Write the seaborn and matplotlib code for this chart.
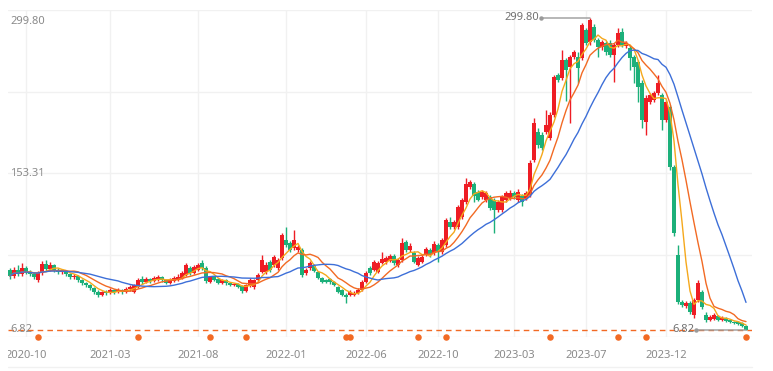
import matplotlib
matplotlib.use('Agg')
import matplotlib.pyplot as plt
import matplotlib.transforms as mtransforms
from matplotlib.lines import Line2D
from matplotlib.patches import Rectangle
import numpy as np
import pandas as pd
import seaborn as sns

# weekly candles
opens = [
    63.1, 57.5, 63.1, 59.4, 65.0, 61.3, 59.4, 53.7, 60.3, 68.8,
    64.1, 67.8, 63.1, 61.3, 62.2, 59.4, 56.6, 57.5, 53.7, 50.9,
    49.0, 46.3, 42.5, 39.7, 42.5, 41.6, 44.4, 42.5, 44.4, 42.5,
    45.3, 42.5, 47.2, 54.7, 51.9, 54.7, 52.8, 53.7, 56.6, 53.7,
    50.9, 52.8, 53.7, 55.6, 58.4, 65.0, 60.3, 63.1, 69.7, 65.0,
    51.9, 56.6, 54.7, 50.9, 53.7, 50.9, 49.0, 50.0, 48.1, 43.4,
    48.1, 47.2, 53.7, 61.3, 61.3, 70.7, 67.8, 65.0, 74.4, 91.3,
    88.5, 83.8, 81.9, 81.9, 60.3, 65.0, 66.9, 61.3, 55.6, 53.7,
    54.7, 51.9, 47.2, 44.4, 39.7, 39.7, 39.7, 41.6, 44.4, 51.9,
    65.0, 63.1, 61.3, 69.7, 70.7, 71.6, 76.3, 67.8, 72.5, 89.5,
    81.9, 79.1, 67.8, 70.7, 77.2, 81.9, 79.1, 86.6, 80.1, 86.6,
    108.2, 103.5, 103.5, 112.9, 127.0, 141.1, 143.9, 136.4, 131.7, 128.9,
    131.7, 128.9, 119.5, 119.5, 128.9, 130.8, 135.5, 128.9, 132.6, 130.8,
    133.6, 166.4, 192.7, 189.9, 192.7, 187.1, 208.7, 246.3, 243.5, 260.4,
    253.8, 263.2, 263.2, 262.2, 288.5, 277.3, 291.3, 279.1, 272.6, 276.3,
    276.3, 265.1, 274.4, 286.7, 273.5, 271.6, 263.2, 258.5, 238.8, 202.1,
    220.9, 222.8, 229.4, 227.5, 204.0, 216.2, 159.9, 77.2, 33.1, 29.4,
    32.2, 20.9, 35.0, 42.5, 20.9, 16.2, 17.2, 20.0, 16.2, 18.1,
    16.2, 14.3, 14.3, 13.4, 10.6,
]
closes = [
    57.5, 63.1, 59.4, 65.0, 61.3, 59.4, 56.6, 60.3, 68.8, 64.1,
    67.8, 63.1, 61.3, 62.2, 59.4, 56.6, 57.5, 53.7, 50.9, 49.0,
    46.3, 42.5, 39.7, 42.5, 41.6, 44.4, 42.5, 44.4, 42.5, 45.3,
    47.2, 49.0, 53.7, 51.9, 54.7, 52.8, 55.6, 56.6, 53.7, 50.9,
    53.7, 55.6, 56.6, 60.3, 67.8, 60.3, 66.0, 67.8, 65.0, 52.8,
    56.6, 53.7, 50.9, 53.7, 50.9, 49.0, 50.0, 47.2, 43.4, 49.0,
    53.7, 53.7, 58.4, 72.5, 67.8, 63.1, 75.4, 72.5, 96.0, 86.6,
    81.9, 91.3, 84.8, 58.4, 63.1, 69.7, 62.2, 55.6, 51.9, 51.9,
    51.9, 49.0, 42.5, 39.7, 37.8, 42.5, 41.6, 44.4, 51.9, 60.3,
    60.3, 70.7, 69.7, 73.5, 74.4, 76.3, 69.7, 72.5, 88.5, 81.9,
    85.7, 70.7, 74.4, 75.4, 82.9, 77.2, 87.6, 80.1, 91.3, 110.1,
    103.5, 108.2, 122.3, 128.9, 143.9, 145.8, 132.6, 128.9, 136.4, 135.5,
    121.4, 119.5, 127.0, 131.7, 135.5, 135.5, 131.7, 136.4, 127.0, 135.5,
    163.6, 201.2, 180.5, 177.7, 199.3, 208.7, 244.4, 241.6, 260.4, 251.0,
    263.2, 267.9, 252.9, 293.2, 276.3, 297.9, 279.1, 272.6, 277.3, 267.9,
    265.1, 274.4, 285.7, 274.4, 276.3, 262.2, 253.8, 235.0, 204.0, 224.7,
    227.5, 229.4, 238.8, 204.0, 220.9, 159.9, 97.9, 33.1, 30.3, 32.2,
    23.7, 35.0, 50.9, 28.4, 16.2, 19.1, 20.9, 16.2, 18.1, 15.3,
    14.3, 13.4, 12.5, 10.6, 6.82,
]
highs = [
    65.0, 66.0, 67.8, 69.7, 66.9, 63.1, 61.3, 62.2, 71.6, 72.5,
    70.7, 68.8, 65.0, 64.1, 63.1, 60.3, 59.4, 58.4, 54.7, 51.9,
    50.0, 47.2, 44.4, 43.4, 44.4, 46.3, 45.3, 46.3, 45.3, 47.2,
    49.0, 50.0, 55.6, 57.5, 56.6, 55.6, 57.5, 58.4, 57.5, 54.7,
    55.6, 57.5, 59.4, 62.2, 69.7, 66.9, 67.8, 69.7, 72.5, 66.9,
    57.5, 57.5, 55.6, 54.7, 54.7, 51.9, 50.9, 50.9, 49.0, 50.0,
    55.6, 54.7, 60.3, 77.2, 70.7, 72.5, 77.2, 74.4, 97.9, 103.5,
    90.4, 100.7, 86.6, 83.8, 65.0, 71.6, 68.8, 62.2, 56.6, 54.7,
    55.6, 52.8, 48.1, 45.3, 41.6, 44.4, 43.4, 46.3, 53.7, 62.2,
    66.9, 72.5, 71.6, 80.1, 76.3, 78.2, 78.2, 74.4, 93.2, 91.3,
    88.5, 81.0, 76.3, 77.2, 84.8, 83.8, 90.4, 88.5, 93.2, 112.0,
    112.9, 110.1, 124.2, 130.8, 149.6, 147.7, 145.8, 138.3, 138.3, 137.4,
    133.6, 130.8, 128.9, 133.6, 137.4, 138.3, 137.4, 139.2, 134.5, 137.4,
    166.4, 205.9, 196.5, 192.7, 213.4, 211.5, 246.3, 248.2, 269.7, 262.2,
    265.1, 269.7, 267.9, 295.1, 290.4, 299.8, 294.2, 281.0, 279.1, 278.2,
    279.1, 276.3, 290.4, 290.4, 278.2, 273.5, 265.1, 260.4, 241.6, 227.5,
    229.4, 231.2, 246.3, 229.4, 222.8, 218.1, 161.8, 86.6, 35.0, 34.1,
    34.1, 36.9, 53.7, 44.4, 23.7, 20.9, 22.8, 20.9, 20.0, 19.1,
    17.2, 15.3, 15.3, 14.3, 11.5,
]
lows = [
    54.7, 55.6, 57.5, 57.5, 59.4, 57.5, 54.7, 51.9, 58.4, 62.2,
    62.2, 61.3, 59.4, 59.4, 57.5, 54.7, 54.7, 51.9, 49.0, 47.2,
    44.4, 40.6, 37.8, 38.8, 39.7, 40.6, 40.6, 41.6, 40.6, 41.6,
    43.4, 41.6, 46.3, 50.0, 50.9, 50.9, 51.9, 52.8, 51.9, 50.0,
    50.0, 51.9, 52.8, 54.7, 57.5, 58.4, 59.4, 62.2, 63.1, 50.9,
    50.9, 52.8, 50.0, 50.0, 49.0, 48.1, 48.1, 46.3, 41.6, 42.5,
    47.2, 45.3, 52.8, 60.3, 59.4, 61.3, 66.0, 63.1, 72.5, 84.8,
    80.1, 81.9, 80.1, 56.6, 58.4, 63.1, 61.3, 54.7, 50.9, 50.9,
    50.0, 48.1, 41.6, 38.8, 32.2, 38.8, 38.8, 40.6, 43.4, 50.9,
    58.4, 62.2, 60.3, 68.8, 68.8, 70.7, 67.8, 66.0, 70.7, 80.1,
    80.1, 69.7, 66.9, 69.7, 76.3, 75.4, 77.2, 70.7, 78.2, 84.8,
    101.7, 101.7, 101.7, 111.1, 125.1, 139.2, 127.0, 128.0, 129.8, 127.0,
    119.5, 97.9, 117.6, 117.6, 127.0, 128.9, 129.8, 127.0, 123.3, 128.9,
    131.7, 164.6, 177.7, 175.8, 190.9, 185.2, 206.8, 239.7, 241.6, 221.9,
    201.2, 261.3, 238.8, 260.4, 274.4, 274.4, 277.3, 263.2, 269.7, 265.1,
    263.2, 239.7, 272.6, 272.6, 271.6, 251.0, 238.8, 220.9, 196.5, 189.9,
    219.0, 220.9, 227.5, 194.6, 202.1, 157.1, 95.1, 31.2, 28.4, 27.5,
    21.9, 18.1, 33.1, 26.5, 14.3, 15.3, 16.2, 15.3, 15.3, 14.3,
    13.4, 12.5, 11.5, 9.6, 6.82,
]

# weeks carrying an event marker (orange dots on the bottom line)
event_idx = [7, 32, 50, 59, 84, 85, 102, 109, 135, 152, 159, 184]

tick_idx = [4, 25, 47, 69, 89, 107, 126, 144, 164]
tick_labels = ['2020-10', '2021-03', '2021-08', '2022-01', '2022-06',
               '2022-10', '2023-03', '2023-07', '2023-12']

UP = '#ee1d24'
DOWN = '#1cb07a'
MA_COLORS = {'ma5': '#f5a81c', 'ma10': '#f26a24', 'ma20': '#3d6fd8'}
ORANGE = '#f26a24'
GRID = '#f1f1f1'
LABEL = '#8a8a8a'

df = pd.DataFrame({'open': opens, 'close': closes, 'high': highs, 'low': lows})
df['idx'] = np.arange(len(df))
for n in (5, 10, 20):
    df[f'ma{n}'] = df['close'].rolling(n, min_periods=1).mean()

sns.set_theme(style='white')
plt.rcParams['font.family'] = ['Noto Sans', 'DejaVu Sans']

W, H = 773, 371
fig = plt.figure(figsize=(W / 100, H / 100), dpi=100)
ax = fig.add_axes([8 / W, 1 - 337 / H, 744 / W, 327 / H])

hi = df['high'].max()
lo = df['low'].min()
mid = (hi + lo) / 2
span = hi - lo
ymin, ymax = lo - span * 7 / 312, hi + span * 8 / 312

# candles
up = df['close'] >= df['open']
colors = np.where(up, UP, DOWN)
ax.vlines(df['idx'], df['low'], df['high'], colors=colors, lw=1, zorder=2)
body_bot = df[['open', 'close']].min(axis=1)
body_h = (df['close'] - df['open']).abs().clip(lower=1.0)
ax.bar(df['idx'], body_h, bottom=body_bot, width=0.8, color=colors,
       linewidth=0, zorder=3)

# moving averages
long = df.melt(id_vars='idx', value_vars=['ma5', 'ma10', 'ma20'],
               var_name='ma', value_name='v')
sns.lineplot(data=long, x='idx', y='v', hue='ma', palette=MA_COLORS,
             linewidth=1, legend=False, ax=ax, zorder=4)

# last price line
last = df['close'].iloc[-1]
ax.axhline(last, color=ORANGE, lw=1, ls=(0, (4, 3)), zorder=1)

# max / min markers
imax = int(df['high'].idxmax())
imin = int(df['low'].idxmin())
for i, v, dx in [(imax, hi, -51), (imin, lo, -52)]:
    ax.annotate(f'{v:.2f}', xy=(i, v), xytext=(dx, 0), textcoords='offset pixels',
                ha='right', va='center', color='#707070', fontsize=8, zorder=6,
                arrowprops=dict(arrowstyle='-', color='#9a9a9a', lw=1,
                                shrinkA=0, shrinkB=0))
    tr = mtransforms.offset_copy(ax.transData, fig=fig, x=dx + 2, y=0, units='dots')
    ax.plot([i], [v], 'o', ms=2.2, color='#9a9a9a', transform=tr, zorder=6)

# event dots
ax.scatter(event_idx, [0] * len(event_idx), s=22, color=ORANGE,
           transform=ax.get_xaxis_transform(), clip_on=False, zorder=6,
           linewidths=0)

# y labels (max / mid / min) inside the plot
ytr = ax.get_yaxis_transform()
for v, off in [(hi, -4), (mid, 0), (lo, 0)]:
    tr = mtransforms.offset_copy(ytr, fig=fig, x=2, y=off, units='dots')
    ax.text(0, v, f'{v:.2f}', transform=tr, ha='left', va='center',
            fontsize=8, color=LABEL, zorder=5)

ax.set_xlim(-0.5, len(df) + 0.5)
ax.set_ylim(ymin, ymax)
ax.set_yticks(np.linspace(ymin, ymax, 5))
ax.set_yticklabels([])
ax.set_xticks(tick_idx)
ax.set_xticklabels(tick_labels)
ax.tick_params(axis='x', length=0, pad=9, labelsize=8, labelcolor=LABEL)
ax.tick_params(axis='y', length=0)
ax.grid(True, color=GRID, lw=1)
ax.set_axisbelow(True)
ax.set_xlabel('')
ax.set_ylabel('')
for s in ax.spines.values():
    s.set_visible(False)

# the first date label is cut off at the left edge of the plot
fig.add_artist(Rectangle((0, 0), 8 / W, 1 - 340 / H, transform=fig.transFigure,
                         facecolor='white', edgecolor='none', zorder=10))
fig.add_artist(Line2D([8 / W, 752 / W], [1 - 367 / H] * 2, color=GRID, lw=1))

fig.savefig('out.png', dpi=100)
